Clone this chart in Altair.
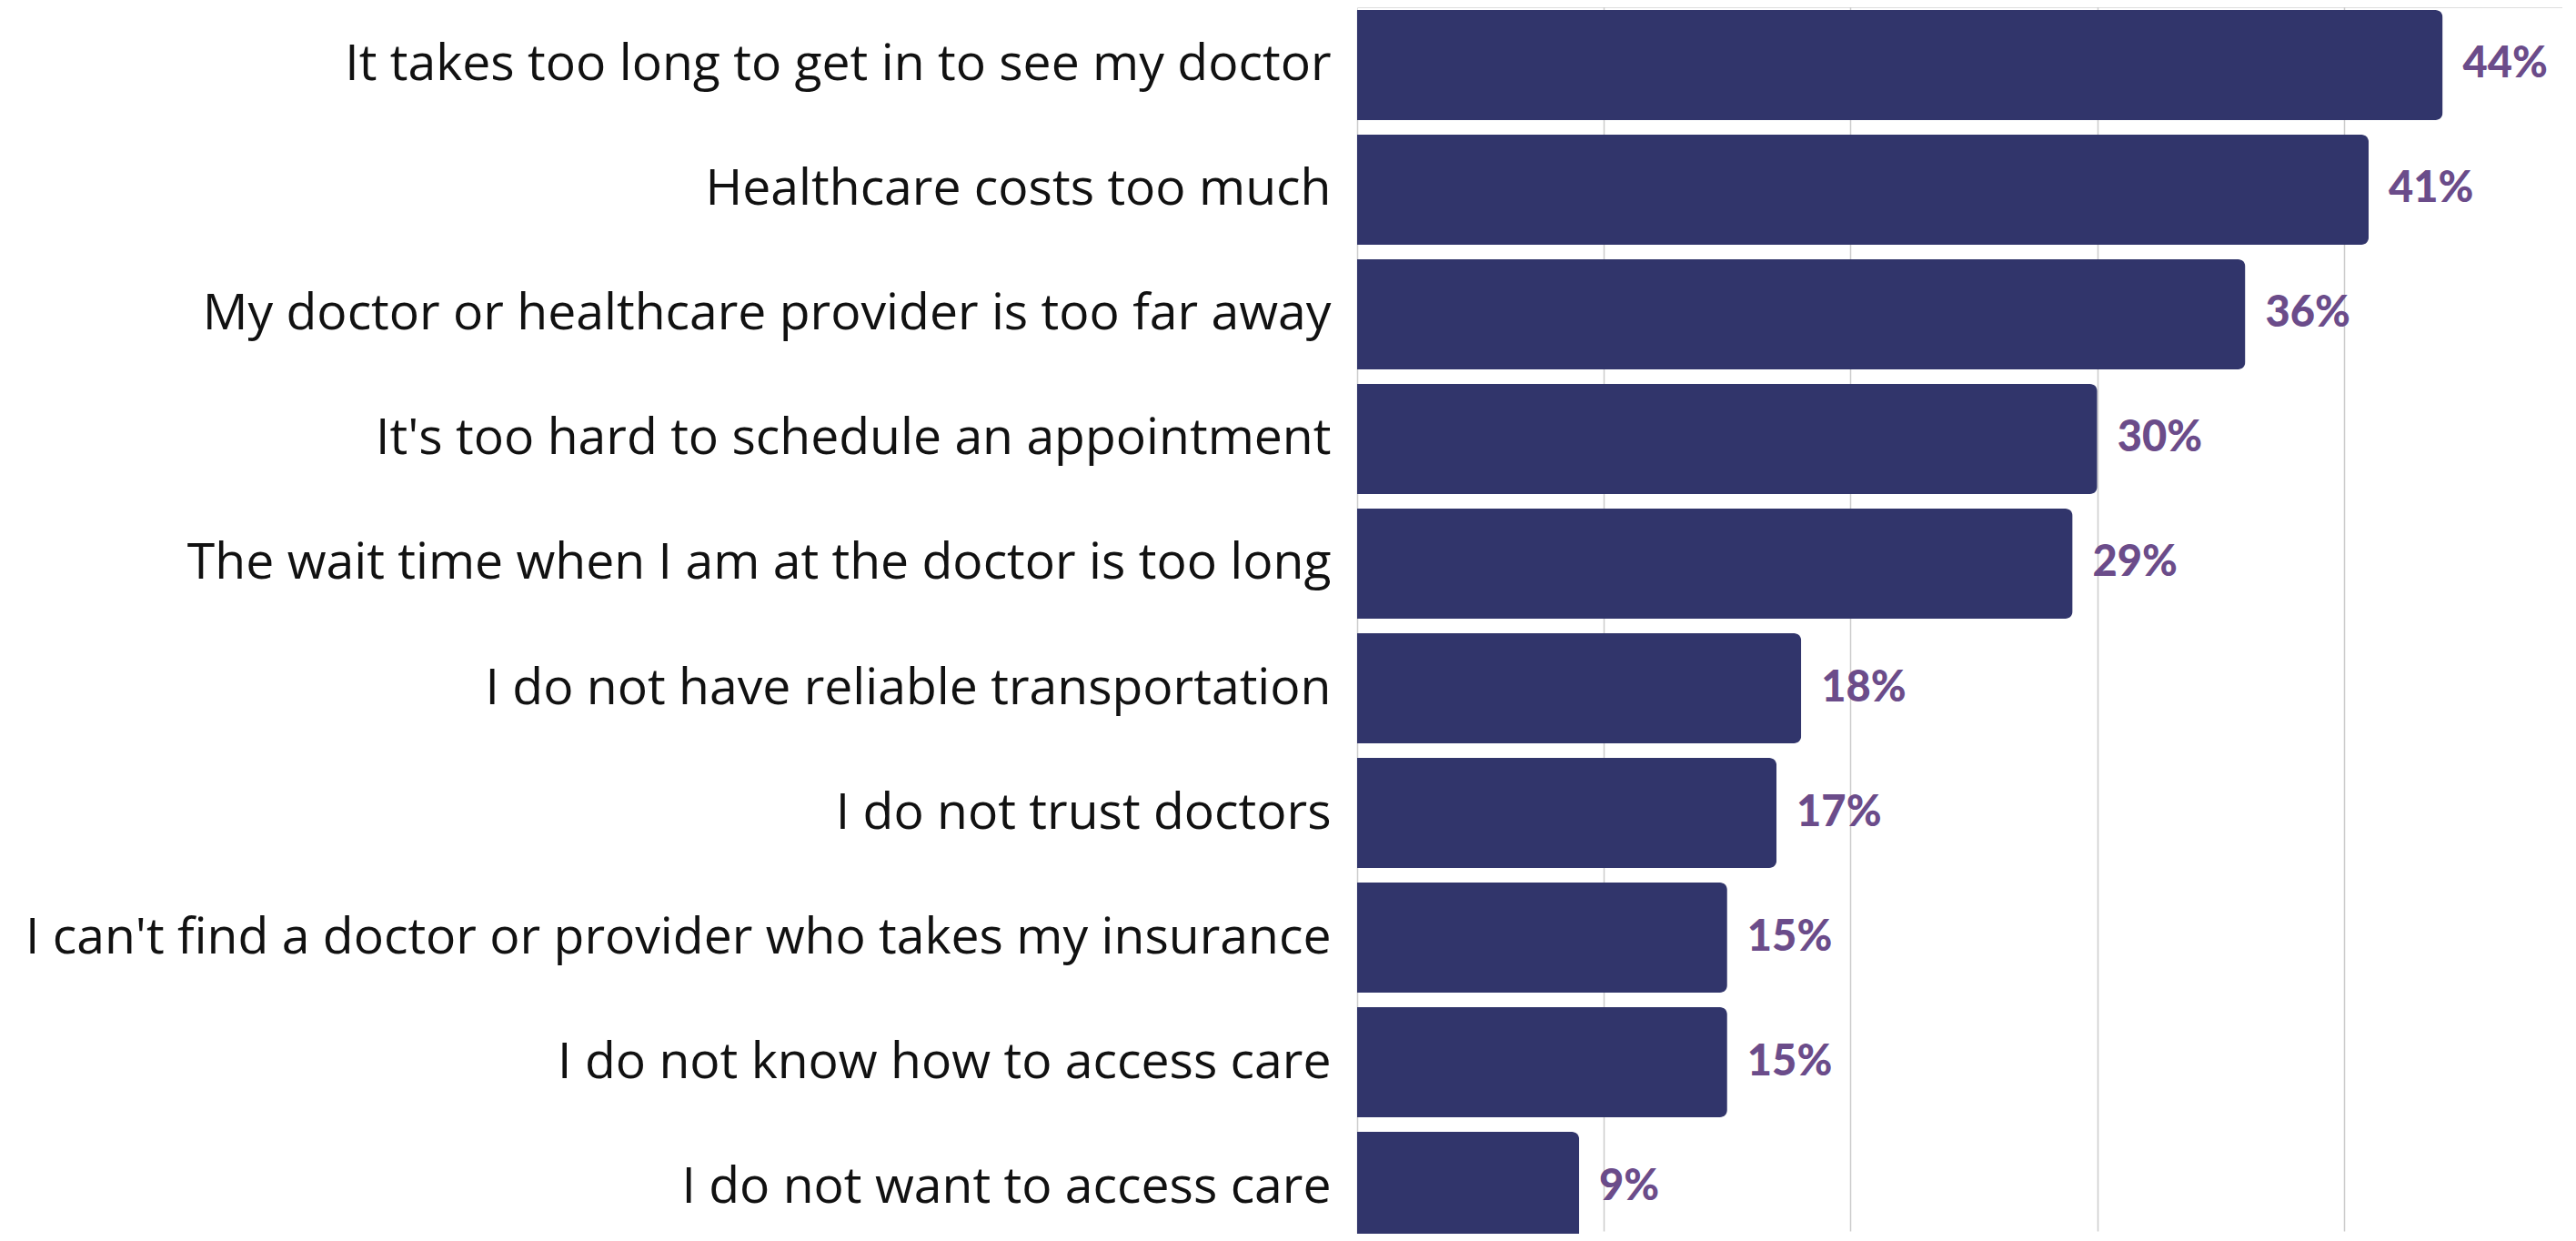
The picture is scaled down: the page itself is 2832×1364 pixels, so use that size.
import altair as alt
import pandas as pd

categories = [
    "It takes too long to get in to see my doctor",
    "Healthcare costs too much",
    "My doctor or healthcare provider is too far away",
    "It's too hard to schedule an appointment",
    "The wait time when I am at the doctor is too long",
    "I do not have reliable transportation",
    "I do not trust doctors",
    "I can't find a doctor or provider who takes my insurance",
    "I do not know how to access care",
    "I do not want to access care",
]
values = [0.44, 0.41, 0.36, 0.30, 0.29, 0.18, 0.17, 0.15, 0.15, 0.09]
grid_values = [0.1, 0.2, 0.3, 0.4]

df = pd.DataFrame({"reason": categories, "share": values})

y_enc = alt.Y(
    "reason:N",
    sort=categories,
    scale=alt.Scale(range=[3, 1357], paddingInner=0.117, paddingOuter=0),
    axis=alt.Axis(
        title=None,
        ticks=False,
        domain=True,
        domainColor="#cccccc",
        domainWidth=1.5,
        labelFont="Open Sans",
        labelFontSize=55.3,
        labelColor="#111111",
        labelPadding=29,
        labelLimit=2000,
        grid=False,
    ),
)

x_scale = alt.Scale(domain=[0, 0.4885], nice=False, zero=True)

bars = alt.Chart(df).mark_bar(
    color="#31356B", cornerRadiusEnd=8
).encode(
    x=alt.X(
        "share:Q",
        scale=x_scale,
        axis=alt.Axis(
            title=None,
            labels=False,
            ticks=False,
            domain=False,
            grid=True,
            gridColor="#cccccc",
            gridWidth=1.5,
            values=grid_values,
        ),
    ),
    y=y_enc,
)

labels = alt.Chart(df).mark_text(
    align="left",
    baseline="middle",
    dx=22,
    font="Lato",
    fontWeight=900,
    fontSize=47,
    color="#6B4C8A",
).encode(
    x=alt.X("share:Q", scale=x_scale),
    y=alt.Y("reason:N", sort=categories),
    text=alt.Text("share:Q", format=".0%"),
)

chart = (
    alt.layer(bars, labels)
    .properties(
        width=1325,
        height=1348,
        padding={"left": 1484, "top": 0, "right": 0, "bottom": 0},
        autosize=alt.AutoSizeParams(type="none"),
    )
    .configure_view(stroke=None)
    .configure(background="white")
)

chart.save("out.html", embed_options={"renderer": "svg", "actions": False})
